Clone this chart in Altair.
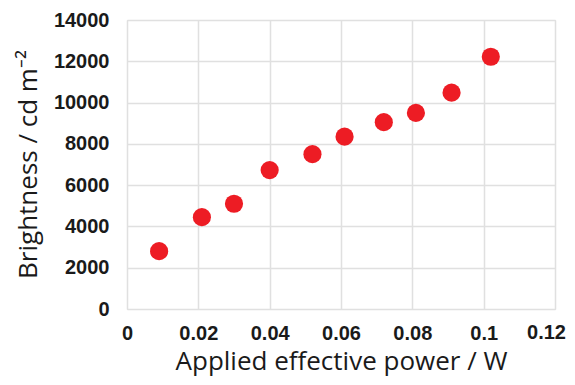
import altair as alt
import pandas as pd

power_w = [0.009, 0.021, 0.030, 0.040, 0.052, 0.061, 0.072, 0.081, 0.091, 0.102]
brightness = [2800, 4450, 5100, 6730, 7500, 8350, 9050, 9500, 10480, 12220]

x_ticks = [0, 0.02, 0.04, 0.06, 0.08, 0.10, 0.12]
y_ticks = [0, 2000, 4000, 6000, 8000, 10000, 12000, 14000]

x_title = "Applied effective power / W"
y_title = "Brightness / cd m⁻²"

df = pd.DataFrame({"power": power_w, "brightness": brightness})
last_df = pd.DataFrame({"power": [x_ticks[-1]], "label": ["0.12"]})

xscale = alt.Scale(domain=[0, 0.12], nice=False, zero=True)

points = alt.Chart(df).mark_circle(size=330, color="#ED1C24", opacity=1).encode(
    x=alt.X(
        "power:Q",
        scale=xscale,
        axis=alt.Axis(
            values=x_ticks,
            format="~g",
            labelExpr="datum.value > 0.119 ? '' : datum.label",
            title=x_title,
            titleFont="Open Sans",
            titleFontSize=26,
            titleFontWeight="normal",
            titleColor="#1a1a1a",
            titleBaseline="alphabetic",
            titleY=60,
            labelFont="Liberation Sans",
            labelFontSize=20,
            labelFontWeight="bold",
            labelColor="#1a1a1a",
            labelPadding=14,
            ticks=False,
            tickSize=0,
            domain=False,
            gridColor="#e0e0e0",
            gridWidth=1.5,
            labelFlush=False,
        ),
    ),
    y=alt.Y(
        "brightness:Q",
        scale=alt.Scale(domain=[0, 14000], nice=False),
        axis=alt.Axis(
            values=y_ticks,
            format="d",
            title=y_title,
            titleFont="Open Sans",
            titleFontSize=26,
            titleFontWeight="normal",
            titleColor="#1a1a1a",
            titleAngle=-90,
            titleAlign="center",
            titleBaseline="alphabetic",
            titleX=-91,
            titleY=144,
            labelFont="Liberation Sans",
            labelFontSize=20,
            labelFontWeight="bold",
            labelColor="#1a1a1a",
            labelPadding=18,
            ticks=False,
            tickSize=0,
            domain=False,
            gridColor="#e0e0e0",
            gridWidth=1.5,
            labelFlush=False,
        ),
    ),
)

last_label = alt.Chart(last_df).mark_text(
    align="right",
    baseline="top",
    dx=11,
    dy=14,
    font="Liberation Sans",
    fontSize=20,
    fontWeight="bold",
    color="#1a1a1a",
).encode(
    x=alt.X("power:Q", scale=xscale, title=x_title),
    y=alt.value(289),
    text="label:N",
)

chart = alt.layer(points, last_label).properties(
    width=428,
    height=289,
    autosize=alt.AutoSizeParams(type="none"),
    padding={"left": 119, "top": 12, "right": 12, "bottom": 68},
).configure_view(
    stroke="#5a5a5a",
    strokeWidth=2,
).configure(background="white")

chart.save("out.html", embed_options={"renderer": "svg", "actions": False})
